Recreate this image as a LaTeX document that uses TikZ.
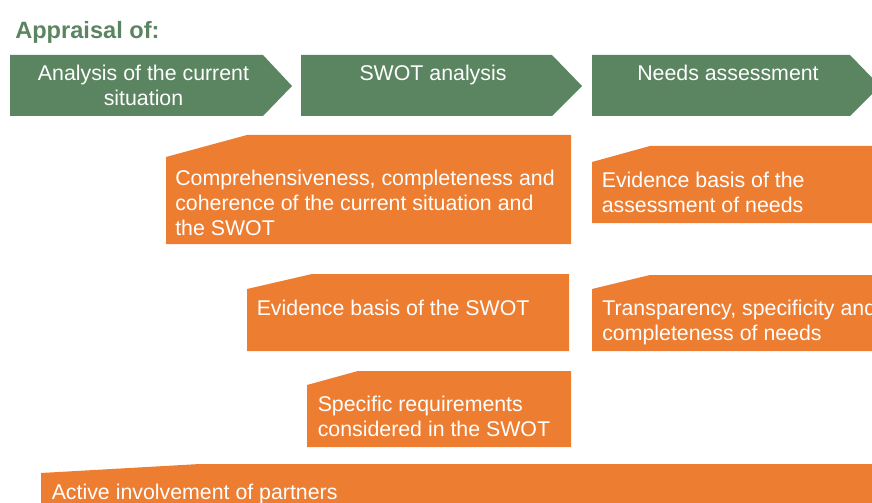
\documentclass[tikz,border=0pt]{standalone}
\usepackage{fontspec}
\setmainfont{Liberation Sans}
\definecolor{sgreen}{HTML}{5A8560}
\definecolor{sorange}{HTML}{ED7D31}
\tikzset{
  stage/.style={fill=sgreen},
  crit/.style={fill=sorange},
  stagetxt/.style={text=white, inner sep=0pt, align=center, anchor=north,
    font=\fontsize{16}{18.75}\selectfont},
  crittxt/.style={text=white, inner sep=0pt, align=left, anchor=north west,
    font=\fontsize{16}{18.75}\selectfont}
}
\begin{document}
\begin{tikzpicture}[x=0.75pt,y=-0.75pt]
    \clip (0,0) rectangle (872,503);
    \node [text=sgreen, inner sep=0pt, anchor=north west, font=\bfseries\fontsize{17.7}{20}\selectfont] (title) at (15,21) {Appraisal of:};
    % stages
    \fill [stage] (10,55)--(263,55)--(292,86)--(263,116)--(10,116)--cycle;
    \fill [stage] (301,55)--(552,55)--(582,86)--(552,116)--(301,116)--cycle;
    \fill [stage] (592,55)--(850,55)--(880,86)--(850,116)--(592,116)--cycle;
    \node [stagetxt] (current) at (143.5,64.5) {Analysis of the current\\situation};
    \node [stagetxt] (swot) at (433,64.5) {SWOT analysis};
    \node [stagetxt] (needs) at (728,64.5) {Needs assessment};
    % criteria
    \fill [crit] (166,157)--(247,135)--(571,135)--(571,244)--(166,244)--cycle;
    \fill [crit] (592,162)--(650,146)--(900,146)--(900,223)--(592,223)--cycle;
    \fill [crit] (247,289)--(312,274)--(569,274)--(569,351)--(247,351)--cycle;
    \fill [crit] (592,289)--(650,275)--(900,275)--(900,351)--(592,351)--cycle;
    \fill [crit] (307,385)--(358,371)--(571,371)--(571,447)--(307,447)--cycle;
    \fill [crit] (41,473)--(200,464)--(900,464)--(900,520)--(41,520)--cycle;
    \node [crittxt] (coherence) at (175,169.5) {Comprehensiveness, completeness and\\coherence of the current situation and\\the SWOT};
    \node [crittxt] (evneeds) at (601.5,171.5) {Evidence basis of the\\assessment of needs};
    \node [crittxt] (evswot) at (256.5,300) {Evidence basis of the SWOT};
    \node [crittxt] (transp) at (602,300) {Transparency, specificity and\\completeness of needs};
    \node [crittxt] (specific) at (317.5,395.5) {Specific requirements\\considered in the SWOT};
    \node [crittxt] (partners) at (51.5,483.5) {Active involvement of partners};
\end{tikzpicture}
\end{document}
